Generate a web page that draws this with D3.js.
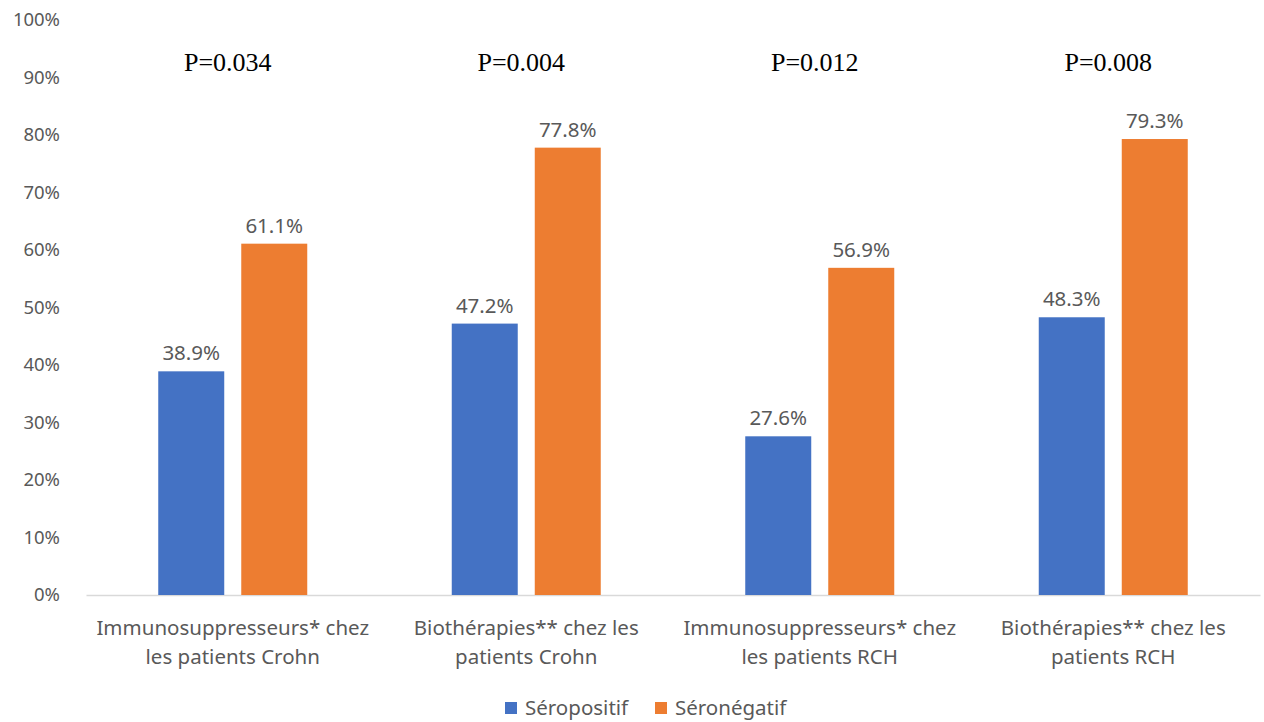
<!DOCTYPE html>
<html>
<head>
<meta charset="utf-8">
<script src="https://cdn.jsdelivr.net/npm/d3@7"></script>
<style>
  body { margin: 0; background: #fff; }
  svg { display: block; }
</style>
</head>
<body>
<svg></svg>
<script>
const categories = [
    ["Immunosuppresseurs* chez", "les patients Crohn"],
    ["Biothérapies** chez les", "patients Crohn"],
    ["Immunosuppresseurs* chez", "les patients RCH"],
    ["Biothérapies** chez les", "patients RCH"]
]
const series = ["Séropositif", "Séronégatif"]
const seropositif = [38.9, 47.2, 27.6, 48.3]
const seronegatif = [61.1, 77.8, 56.9, 79.3]
const pValues = ["P=0.034", "P=0.004", "P=0.012", "P=0.008"]
const yTicks = [0, 10, 20, 30, 40, 50, 60, 70, 80, 90, 100]

const
    width = 1264,
    height = 722,
    margin = { top: 20, right: 4, bottom: 127, left: 86 },
    colors = ["#4472C4", "#ED7D31"],
    font = "'Noto Sans', 'Open Sans', sans-serif",
    textColor = "#595959"

const data = categories.map((c, i) => ({
    key: i,
    label: c,
    values: [seropositif[i], seronegatif[i]],
    p: pValues[i]
}))

const x0 = d3.scaleBand()
    .domain(data.map(d => d.key))
    .range([margin.left, width - margin.right])

const x1 = d3.scaleBand()
    .domain([0, 1])
    .range([x0.bandwidth() / 2 - 74.5, x0.bandwidth() / 2 + 74.5])
    .paddingInner(0.205)

const y = d3.scaleLinear()
    .domain([0, 100])
    .range([height - margin.bottom, margin.top])

const svg = d3.select("svg")
    .attr("width", width)
    .attr("height", height)
    .style("font-family", font)

// y axis labels
svg.append("g")
    .attr("transform", `translate(${margin.left - 23},0)`)
    .call(d3.axisLeft(y).tickValues(yTicks).tickFormat(d => d + "%").tickSize(0))
    .call(g => g.select(".domain").remove())
    .call(g => g.selectAll("text")
        .attr("fill", textColor)
        .style("font-size", "18.5px")
        .style("font-family", font))

// baseline
svg.append("g")
    .attr("transform", `translate(0,${y(0)})`)
    .call(d3.axisBottom(x0).tickSize(0).tickFormat(""))
    .call(g => g.select(".domain").attr("stroke", "#d9d9d9").attr("stroke-width", 1.5))

const groups = svg.append("g")
    .selectAll("g")
    .data(data)
    .join("g")
    .attr("transform", d => `translate(${x0(d.key)},0)`)

groups.selectAll("rect")
    .data(d => d.values.map((v, i) => ({ i, v })))
    .join("rect")
    .attr("x", d => x1(d.i))
    .attr("y", d => y(d.v))
    .attr("width", x1.bandwidth())
    .attr("height", d => y(0) - y(d.v))
    .attr("fill", d => colors[d.i])

groups.selectAll(".val")
    .data(d => d.values.map((v, i) => ({ i, v })))
    .join("text")
    .attr("class", "val")
    .attr("x", d => x1(d.i) + x1.bandwidth() / 2)
    .attr("y", d => y(d.v) - 11)
    .attr("text-anchor", "middle")
    .attr("fill", textColor)
    .style("font-size", "20.5px")
    .text(d => d.v.toFixed(1) + "%")

// p values
groups.append("text")
    .attr("x", x0.bandwidth() / 2 - 5)
    .attr("y", 71)
    .attr("text-anchor", "middle")
    .attr("fill", "#000")
    .style("font-family", "'Liberation Serif', 'Times New Roman', serif")
    .style("font-weight", "normal")
    .style("font-size", "26px")
    .text(d => d.p)

// category labels
groups.append("text")
    .attr("text-anchor", "middle")
    .attr("fill", textColor)
    .style("font-size", "20.5px")
    .selectAll("tspan")
    .data(d => d.label)
    .join("tspan")
    .attr("x", x0.bandwidth() / 2)
    .attr("y", (d, i) => 635 + i * 29)
    .text(d => d)

// legend
const legend = svg.append("g")
    .attr("transform", "translate(505,708)")

const items = legend.selectAll("g")
    .data(series)
    .join("g")
    .attr("transform", (d, i) => `translate(${i * 150},0)`)

items.append("rect")
    .attr("x", 0)
    .attr("y", -6)
    .attr("width", 12)
    .attr("height", 12)
    .attr("fill", (d, i) => colors[i])

items.append("text")
    .attr("x", 20)
    .attr("y", 7)
    .attr("fill", textColor)
    .style("font-size", "20.5px")
    .text(d => d)
</script>
</body>
</html>
